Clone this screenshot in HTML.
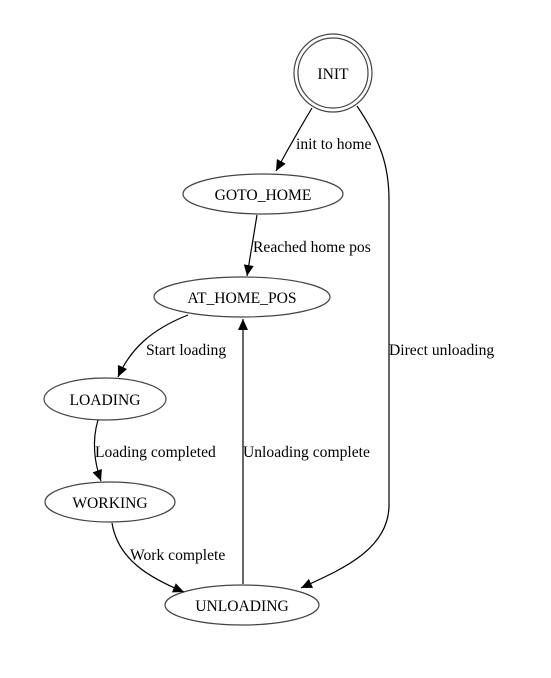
<!DOCTYPE html>
<html><head><style>html,body{margin:0;padding:0;background:#fff}svg{display:block}text{font-family:"Liberation Serif",serif;font-size:15.6px;fill:#000}</style></head>
<body>
<svg width="551" height="678" viewBox="0 0 551 678" xmlns="http://www.w3.org/2000/svg">
<defs><marker id="a" markerWidth="12" markerHeight="12" refX="11" refY="5.5" orient="auto" markerUnits="userSpaceOnUse"><path d="M0,0.5 L11,5.5 L0,10.5 z" fill="#000"/></marker></defs>
<g fill="none" stroke="#444" stroke-width="1.2">
<circle cx="333" cy="73" r="39"/><circle cx="333" cy="73" r="35"/>
<ellipse cx="263" cy="194" rx="80" ry="20"/>
<ellipse cx="242" cy="297" rx="88" ry="20"/>
<ellipse cx="105" cy="399" rx="61" ry="21"/>
<ellipse cx="110" cy="502" rx="65" ry="20"/>
<ellipse cx="242" cy="605" rx="77" ry="20"/>
</g>
<g fill="none" stroke="#000" stroke-width="1.2" marker-end="url(#a)">
<path d="M312,108 Q294,138 276,171"/>
<path d="M357,106 C380,140 389,165 389,200 L389,505 C389,550 340,570 301,588"/>
<path d="M257,215 L247,276"/>
<path d="M188,315 C150,330 130,350 118,377"/>
<path d="M98,420 C92,440 94,462 101,481"/>
<path d="M112,523 C118,560 150,578 184,592"/>
<path d="M243,584 L243,319"/>
</g>
<g text-anchor="middle">
<text x="333" y="79">INIT</text>
<text x="263" y="200">GOTO_HOME</text>
<text x="242" y="303">AT_HOME_POS</text>
<text x="105" y="405">LOADING</text>
<text x="110" y="508">WORKING</text>
<text x="242" y="611">UNLOADING</text>
</g>
<text x="296" y="149">init to home</text>
<text x="253" y="252">Reached home pos</text>
<text x="389" y="355">Direct unloading</text>
<text x="146" y="355">Start loading</text>
<text x="95" y="457">Loading completed</text>
<text x="243" y="457">Unloading complete</text>
<text x="130" y="560">Work complete</text>
</svg>
</body></html>
